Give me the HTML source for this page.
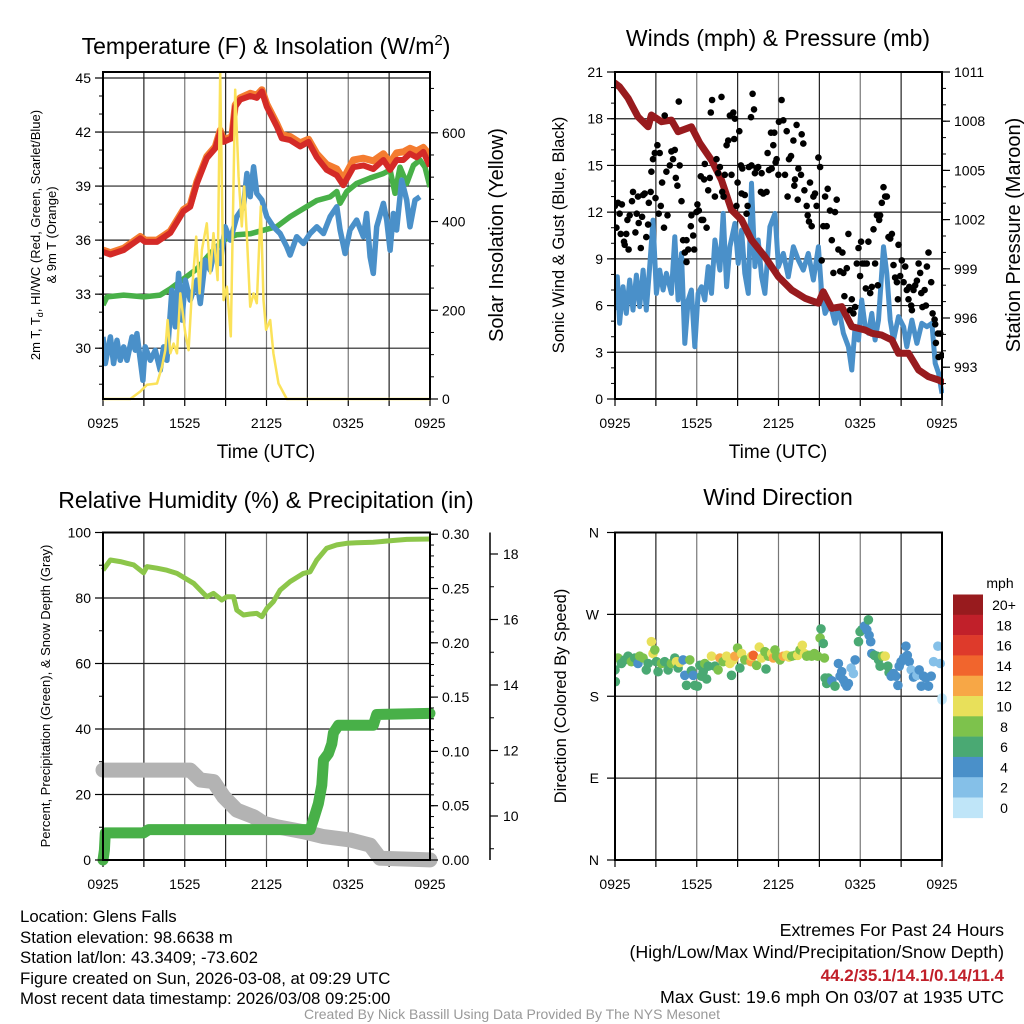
<!DOCTYPE html>
<html><head><meta charset="utf-8"><style>
html,body{margin:0;padding:0;background:#fff;}
svg{display:block;font-family:"Liberation Sans",Arial,sans-serif;}
</style></head><body>
<svg id="chart" xmlns="http://www.w3.org/2000/svg" width="1024" height="1024" viewBox="0 0 1024 1024">
<rect width="1024" height="1024" fill="#fff"/>
<g id="layer"></g>
<text x="266" y="54" font-size="23" text-anchor="middle">Temperature (F) &amp; Insolation (W/m<tspan dy="-9" font-size="15">2</tspan><tspan dy="9">)</tspan></text>
<text x="778" y="46" font-size="23" text-anchor="middle">Winds (mph) &amp; Pressure (mb)</text>
<text x="266" y="508" font-size="23" text-anchor="middle">Relative Humidity (%) &amp; Precipitation (in)</text>
<text x="778" y="505" font-size="23" text-anchor="middle">Wind Direction</text>
<text x="266" y="458" font-size="19" text-anchor="middle">Time (UTC)</text>
<text x="778" y="458" font-size="19" text-anchor="middle">Time (UTC)</text>
<text transform="translate(40,235) rotate(-90)" font-size="13" text-anchor="middle">2m T, T<tspan font-size="9" dy="3">d</tspan><tspan dy="-3">, HI/WC (Red, Green, Scarlet/Blue)</tspan></text>
<text transform="translate(56,235) rotate(-90)" font-size="13" text-anchor="middle">&amp; 9m T (Orange)</text>
<text transform="translate(503,235) rotate(-90)" font-size="20" text-anchor="middle">Solar Insolation (Yellow)</text>
<text transform="translate(564,235) rotate(-90)" font-size="16.5" text-anchor="middle">Sonic Wind &amp; Gust (Blue, Black)</text>
<text transform="translate(1020,235) rotate(-90)" font-size="20" text-anchor="middle">Station Pressure (Maroon)</text>
<text transform="translate(50,696) rotate(-90)" font-size="13" text-anchor="middle">Percent, Precipitation (Green), &amp; Snow Depth (Gray)</text>
<text transform="translate(566,696) rotate(-90)" font-size="16.5" text-anchor="middle">Direction (Colored By Speed)</text>
<text x="1000" y="588" font-size="14" text-anchor="middle">mph</text>
<g font-size="16.8">
<text x="20" y="922">Location: Glens Falls</text>
<text x="20" y="943">Station elevation: 98.6638 m</text>
<text x="20" y="963">Station lat/lon: 43.3409; -73.602</text>
<text x="20" y="984">Figure created on Sun, 2026-03-08, at 09:29 UTC</text>
<text x="20" y="1004">Most recent data timestamp: 2026/03/08 09:25:00</text>
</g>
<g font-size="17.8" text-anchor="end">
<text x="1004" y="936">Extremes For Past 24 Hours</text>
<text x="1004" y="958">(High/Low/Max Wind/Precipitation/Snow Depth)</text>
<text x="1004" y="981" fill="#c1202a" font-weight="bold" font-size="17">44.2/35.1/14.1/0.14/11.4</text>
<text x="1004" y="1003">Max Gust: 19.6 mph On 03/07 at 1935 UTC</text>
</g>
<text x="512" y="1019" font-size="14" fill="#999" text-anchor="middle">Created By Nick Bassill Using Data Provided By The NYS Mesonet</text>
</svg>
<script>
// ---- Temperature panel data (hours since 0925 UTC) ----
const tempHours = [0,0.54,1.52,2.74,3.10,3.96,4.94,5.91,6.40,6.89,7.62,8.24,8.60,8.85,9.46,9.70,10.07,10.80,11.29,11.66,12.02,12.76,13.12,13.73,14.47,15.08,15.69,16.42,17.16,17.64,18.38,19.11,19.84,20.58,21.07,21.55,22.04,22.53,23.02,23.51,24];
const temp2m = [35.35,35.2,35.45,36.1,35.9,35.9,36.4,37.6,37.85,39.15,40.55,41.1,42.0,41.45,41.65,43.4,43.8,44.0,43.9,44.25,43.4,42.3,41.65,41.55,41.2,41.45,40.6,39.9,39.6,39.05,40.05,40.15,39.95,40.45,39.9,40.45,40.45,40.8,40.6,40.9,40.1];
const temp9m = [35.45,35.3,35.55,36.2,36.0,36.0,36.5,37.7,37.95,39.25,40.65,41.2,42.1,41.55,41.75,43.5,43.9,44.15,44.05,44.35,43.55,42.45,41.85,41.75,41.4,41.6,40.8,40.2,39.95,39.4,40.45,40.55,40.4,40.8,40.3,40.85,40.9,41.1,40.95,41.15,40.7];
const greenHours = [0,0.29,1.52,2.98,4.20,4.94,5.91,6.89,7.87,8.85,9.82,10.80,11.78,12.76,13.73,14.71,15.69,16.67,17.16,17.40,17.89,18.62,19.60,20.58,21.07,21.43,21.80,22.29,22.78,23.26,23.63,24];
const greenTemp = [32.4,32.85,32.95,32.85,32.95,33.3,33.85,34.4,35.25,36.0,36.3,36.35,36.55,36.75,37.3,37.75,38.2,38.4,38.7,38.05,38.7,39.15,39.45,39.7,39.9,38.6,40.05,39.15,40.15,40.45,40.05,38.95];
const blueHours = [0,0.17,0.54,0.78,1.03,1.27,1.52,1.76,2.13,2.37,2.49,2.74,2.93,3.10,3.47,3.84,4.20,4.45,4.69,5.06,5.30,5.55,5.79,6.04,6.40,6.89,7.14,7.50,7.87,8.24,8.60,8.97,9.34,9.82,10.31,10.56,10.80,11.05,11.29,11.66,12.02,12.51,13.00,13.49,13.73,14.22,14.71,15.20,15.69,16.18,16.67,17.16,17.40,17.77,18.13,18.62,19.11,19.35,19.60,19.84,20.09,20.58,20.82,21.07,21.31,21.55,21.92,22.29,22.53,22.90,23.26];
const blueTemp = [30.63,29.15,30.63,29.15,30.44,29.33,30.07,29.33,30.63,29.89,30.81,29.33,28.22,30.07,29.33,29.89,28.78,30.07,29.33,33.22,31.19,34.15,31.56,33.78,32.67,33.78,32.48,34.89,34.33,35.63,34.70,36.74,36.0,37.30,37.85,39.70,38.41,40.07,38.59,38.22,37.30,36.74,36.37,35.63,35.17,36.19,35.81,36.37,36.74,36.37,37.30,37.85,36.56,35.26,36.56,37.11,36.19,37.48,35.07,34.15,36.74,38.04,37.11,35.44,37.48,36.56,39.33,38.22,36.74,38.22,38.41];
const solarHours = [0,2.00,2.74,3.23,3.96,4.33,4.57,4.74,4.94,5.18,5.43,5.67,6.04,6.28,6.52,6.84,7.09,7.26,7.62,7.87,8.11,8.41,8.60,8.85,9.09,9.38,9.70,9.95,10.19,10.36,10.56,10.80,11.05,11.29,11.58,11.78,11.97,12.27,12.51,12.88,13.49,24];
const solarWm2 = [0,0,17,32,35,73,110,178,103,125,103,238,148,110,238,366,238,336,396,283,374,268,735,223,253,141,697,501,389,479,366,208,238,216,434,223,156,178,103,35,0,0];
const tempTicks = [30,33,36,39,42,45];
const solarTicks = [0,200,400,600];
const timeLabels = ["0925","1525","2125","0325","0925"];

// ---- Wind panel data ----
const presHours = [0,0.34,0.96,1.69,2.43,2.67,3.41,4.14,4.63,5.61,6.23,7.08,7.82,8.55,9.29,10.02,11.00,11.99,12.97,13.95,14.93,15.29,15.91,16.64,17.38,18.36,18.85,19.58,20.32,20.81,21.54,22.28,23.01,23.75,24];
const presMb = [1010.31,1010.1,1009.4,1008.27,1007.66,1008.38,1007.97,1008.07,1007.36,1007.66,1006.65,1005.63,1004.41,1002.59,1001.98,1000.76,999.74,998.52,997.71,997.2,996.9,997.6,996.59,996.69,995.47,995.27,995.07,994.96,994.66,993.85,993.85,992.83,992.42,992.22,992.11];
const windHours = [0,0.17,0.34,0.59,0.83,1.08,1.32,1.57,1.81,2.06,2.30,2.55,2.79,3.04,3.28,3.53,3.77,4.14,4.39,4.63,4.88,5.12,5.37,5.61,5.86,6.10,6.35,6.59,6.84,7.08,7.33,7.70,7.94,8.19,8.43,8.80,9.04,9.29,9.53,9.78,10.02,10.27,10.51,10.76,11.00,11.37,11.74,11.99,12.35,12.72,13.09,13.46,13.82,14.19,14.56,14.93,15.17,15.42,15.78,16.15,16.40,16.76,17.13,17.38,17.62,17.87,18.11,18.36,18.60,18.85,19.09,19.34,19.71,19.95,20.20,20.44,20.81,21.18,21.42,21.79,22.16,22.52,22.89,23.26,23.50,23.75,24.0];
const windMph = [5.71,7.85,4.86,7.21,5.50,7.64,5.71,7.96,5.93,8.28,5.71,8.50,11.49,6.78,8.28,7.0,8.07,6.78,10.42,6.36,9.35,3.57,6.36,7.0,3.36,6.78,7.21,6.36,8.50,6.78,10.21,8.28,11.92,7.21,9.78,11.28,8.71,10.85,8.07,6.78,13.85,8.50,10.21,7.85,6.78,11.06,11.92,8.50,9.35,7.85,9.78,8.92,8.28,9.35,7.64,9.78,6.78,5.50,6.14,4.86,5.93,4.22,3.36,1.86,4.64,3.79,6.36,4.64,4.22,5.50,3.79,5.07,9.78,8.07,5.07,3.79,5.29,4.64,3.36,5.07,3.57,4.86,4.64,4.86,2.29,1.65,0.36];
const gustHours = [0,0.1,0.22,0.34,0.51,0.42,0.66,0.83,0.71,1.0,0.91,1.08,1.25,1.32,1.5,1.59,1.69,1.74,1.89,1.99,2.06,2.18,2.3,2.43,2.48,2.62,2.67,2.79,2.92,2.97,3.11,3.21,3.28,3.36,3.46,3.6,3.65,3.77,3.85,4.02,4.14,4.26,4.39,4.46,4.58,4.68,4.75,4.88,5.0,5.12,5.25,5.25,5.37,5.56,5.61,5.74,5.81,5.98,6.05,6.15,6.3,6.35,6.47,6.54,6.59,6.72,6.84,6.96,7.03,7.13,7.33,7.45,7.57,7.7,7.82,7.87,7.97,8.06,8.19,8.31,8.43,8.55,8.68,8.75,8.8,8.92,9.0,9.12,9.24,9.29,9.34,9.53,9.66,9.73,9.83,9.98,10.02,10.1,10.2,10.27,10.39,10.51,10.71,10.76,10.88,11.13,11.2,11.3,11.45,11.5,11.62,11.69,11.79,11.86,11.99,12.03,12.23,12.35,12.48,12.6,12.67,12.77,12.92,13.09,13.16,13.21,13.33,13.41,13.46,13.65,13.7,13.82,13.9,14.07,14.14,14.24,14.31,14.44,14.56,14.68,14.8,14.93,15.05,15.17,15.29,15.42,15.54,15.61,15.78,15.91,16.03,16.15,16.27,16.4,16.52,16.69,16.76,16.84,17.01,17.13,17.25,17.38,17.5,17.62,17.75,17.87,17.99,18.06,18.16,18.31,18.41,18.48,18.6,18.73,18.85,18.97,19.09,19.22,19.29,19.39,19.46,19.58,19.71,19.83,19.95,20.07,20.2,20.32,20.44,20.56,20.69,20.76,20.81,20.93,21.05,21.18,21.3,21.42,21.54,21.59,21.74,21.79,21.91,22.03,22.16,22.28,22.4,22.48,22.57,22.72,22.82,22.89,23.01,23.21,23.31,23.46,23.5,23.55,23.7,23.87,23.75,24.0];
const gustMph = [12.4,11.0,12.6,11.9,12.5,10.6,10.1,10.6,9.9,9.6,11.5,11.8,12.7,13.3,10.7,11.9,13.0,11.3,9.7,11.7,13.1,13.2,10.4,11.2,12.6,13.3,14.6,15.4,15.8,12.9,16.3,11.9,15.8,12.4,13.9,11.0,18.2,14.6,11.8,15.0,15.9,15.4,16.0,14.2,13.7,19.1,15.0,12.7,10.2,9.4,10.2,8.8,9.6,11.1,11.8,10.5,9.6,12.0,12.5,12.1,14.3,11.5,11.5,14.1,15.1,11.0,13.4,14.2,18.4,19.2,13.0,15.4,14.5,14.9,19.4,13.3,13.0,14.4,16.3,16.6,18.2,14.4,18.4,16.7,18.0,12.4,13.9,17.2,15.0,13.2,14.8,13.1,11.9,12.4,14.9,18.1,15.0,19.6,18.6,14.5,14.8,14.9,13.3,14.5,13.2,13.3,15.8,14.7,17.1,14.8,16.3,17.1,15.2,15.4,14.4,17.8,19.2,17.9,14.4,17.2,13.0,15.4,15.6,16.6,13.7,14.1,17.6,12.8,14.8,14.4,17.0,16.4,13.4,12.4,11.8,11.4,13.9,11.1,13.0,13.2,12.4,15.5,14.9,8.9,11.1,13.0,11.1,13.5,12.1,10.2,8.1,12.0,12.8,9.6,8.2,9.4,8.1,6.6,8.4,10.6,5.7,6.4,5.5,5.9,8.7,9.7,7.9,10.1,8.7,8.7,7.1,8.7,10.1,6.8,7.2,10.9,8.7,11.8,7.3,11.5,11.8,12.6,13.6,13.0,13.0,10.4,10.3,10.6,8.6,7.8,7.5,6.4,9.9,7.9,8.9,7.5,8.5,7.0,6.4,7.2,6.0,5.7,7.0,7.3,7.6,8.7,8.1,6.8,5.9,7.0,6.0,8.5,9.4,7.5,5.5,5.1,4.8,3.6,4.2,4.2,2.7,2.8];
const windTicks = [0,3,6,9,12,15,18,21];
const presTicks = [993,996,999,1002,1005,1008,1011];

// ---- Humidity / precipitation panel data ----
const rhHours = [0,0.54,1.27,1.76,2.25,2.98,3.23,3.96,4.69,5.43,6.04,6.65,7.14,7.62,8.11,8.72,9.09,9.58,9.82,10.31,10.80,11.29,11.66,12.02,12.51,13.00,13.73,14.71,15.20,15.69,16.42,17.16,17.89,18.62,19.84,21.07,22.29,24];
const rhPct = [88.5,91.6,91.1,90.6,90.1,87.7,89.6,89.1,88.5,87.5,86.0,84.5,82.4,80.4,81.4,79.4,80.4,80.4,76.3,74.8,75.1,75.3,74.3,76.8,78.9,82.4,85.0,87.5,88.0,91.6,95.2,96.2,96.7,96.9,97.0,97.5,97.9,98.0];
const precipHours = [0,0.1,0.17,2.98,3.35,15.20,15.44,15.81,16.06,16.18,16.54,16.79,16.91,17.28,19.84,20.09,24];
const precipIn = [0,0.009,0.025,0.025,0.028,0.028,0.037,0.052,0.069,0.092,0.098,0.107,0.117,0.124,0.124,0.134,0.135];
const snowHours = [0,6.40,7.14,8.11,8.85,9.82,11.05,11.78,12.76,14.71,16.18,18.13,19.60,20.33,24];
const snowIn = [11.40,11.40,11.10,11.05,10.59,10.18,9.98,9.78,9.67,9.52,9.37,9.27,9.11,8.71,8.66];
const rhTicks = [0,20,40,60,80,100];
const precipTicks = [0.00,0.05,0.10,0.15,0.20,0.25,0.30];
const snowTicks = [10,12,14,16,18];

// ---- Wind direction panel data ----
const dirHours = [0,0.02,0.22,0.47,0.71,0.96,1.2,1.45,1.69,1.81,2.06,2.3,2.43,2.67,2.79,2.92,3.04,3.16,3.41,3.65,3.9,4.14,4.39,4.51,4.63,4.75,5.0,5.12,5.25,5.49,5.61,5.74,5.86,6.05,6.23,6.35,6.47,6.59,6.72,6.84,7.08,7.33,7.57,7.7,7.94,8.19,8.43,8.55,8.68,8.8,9.0,9.17,9.29,9.53,9.78,9.98,10.02,10.15,10.39,10.59,10.76,11.0,11.08,11.25,11.5,11.62,11.74,11.86,12.11,12.35,12.6,12.77,12.97,13.21,13.41,13.58,13.75,13.9,14.07,14.24,14.44,14.63,14.88,15.12,15.05,15.29,15.37,15.42,15.54,15.66,15.91,16.15,16.4,16.52,16.64,16.76,16.89,17.01,17.13,17.33,17.5,17.62,17.87,17.99,18.11,18.31,18.48,18.6,18.65,18.77,18.85,19.04,19.22,19.34,19.46,19.63,19.83,20.02,20.12,20.27,20.44,20.61,20.76,20.86,21.0,21.18,21.35,21.45,21.59,21.74,21.91,22.16,22.33,22.48,22.65,22.82,23.01,23.21,23.38,23.7,23.87,24.0,24.0];
const dirDeg = [209,196,222,216,220,224,218,222,216,224,222,209,216,240,227,231,218,207,216,218,209,216,222,218,211,217,220,203,192,220,208,203,192,191,214,202,207,216,199,213,224,213,209,222,218,224,216,203,220,224,233,211,227,220,220,218,224,225,214,234,222,229,210,224,227,222,231,224,220,224,225,223,224,225,225,231,236,227,224,225,224,227,224,254,244,238,222,200,194,200,197,191,216,202,207,198,194,191,194,211,205,220,240,251,253,257,253,264,247,240,227,225,224,220,213,224,224,213,206,202,205,202,192,213,218,222,235,225,218,209,201,203,209,191,202,200,191,202,218,235,216,176,178];
const dirSpeed = [7,7,9,7,7,7,9,7,5,9,9,7,7,11,11,9,7,7,9,7,7,9,7,11,7,11,5,5,7,9,7,5,7,7,7,7,7,9,7,7,11,7,9,13,9,11,11,7,11,13,9,7,11,9,9,13,11,15,9,11,11,9,7,9,11,13,9,9,9,13,11,11,9,9,11,9,11,11,9,9,9,9,9,7,9,7,9,7,7,7,5,7,5,5,5,5,5,5,5,3,3,5,7,7,7,5,5,7,5,5,5,7,7,7,7,9,11,7,7,5,5,5,5,5,5,5,5,5,5,3,5,3,5,5,5,5,5,5,3,3,3,1,1];
const dirTicks = ["N","E","S","W","N"];
const speedLabels = ["20+","18","16","14","12","10","8","6","4","2","0"];
const speedColors = ["#981b1e","#c1202a","#de3a2b","#f1652d","#f7a746","#e8e05a","#7dc24c","#4aa973","#4a90c9","#85c0e8","#bfe5f8"];

// ---- helpers ----
const NS = "http://www.w3.org/2000/svg";
const layer = document.getElementById("layer");
function mk(tag, attrs, parent) {
  const e = document.createElementNS(NS, tag);
  for (const k in attrs) e.setAttribute(k, attrs[k]);
  (parent || layer).appendChild(e);
  return e;
}
function lin(d0, d1, r0, r1) { return v => r0 + (v - d0) / (d1 - d0) * (r1 - r0); }
function pathFrom(xs, ys, fx, fy) {
  const n = Math.min(xs.length, ys.length);
  let d = "";
  for (let i = 0; i < n; i++) d += (i ? "L" : "M") + fx(xs[i]).toFixed(1) + "," + fy(ys[i]).toFixed(1);
  return d;
}
function clipRect(id, x, y, w, h) {
  const cp = mk("clipPath", {id: id});
  mk("rect", {x: x, y: y, width: w, height: h}, cp);
}

const P = [
  {x0: 103, x1: 430, y0: 72, y1: 399},
  {x0: 615, x1: 942, y0: 72, y1: 399},
  {x0: 103, x1: 430, y0: 532.5, y1: 860},
  {x0: 615, x1: 942, y0: 532.5, y1: 860}
];

function frame(p, idx, hGrid) {
  const g = mk("g", {});
  
  
  for (let k = 1; k < 8; k++) {
    const x = p.x0 + (p.x1 - p.x0) * k / 8;
    mk("line", {x1: x, x2: x, y1: p.y0, y2: p.y1, stroke: k % 2 ? "#222" : "#777", "stroke-width": 1.2}, g);
  }
  hGrid.forEach(y => mk("line", {x1: p.x0, x2: p.x1, y1: y, y2: y, stroke: "#222", "stroke-width": 1.2}, g));
  for (let k = 0; k <= 8; k++) {
    const x = p.x0 + (p.x1 - p.x0) * k / 8;
    mk("line", {x1: x, x2: x, y1: p.y1, y2: p.y1 + 7, stroke: "#000", "stroke-width": 1.2}, g);
  }
  for (let k = 0; k < timeLabels.length; k++) {
    const x = p.x0 + (p.x1 - p.x0) * k / 4;
    const t = mk("text", {x: x, y: p.y1 + 29, "font-size": 14, "text-anchor": "middle"}, g);
    
    
    t.textContent = timeLabels[k];
  }
}
function border(p, idx) {
  const r = mk("rect", {x: p.x0, y: p.y0, width: p.x1 - p.x0, height: p.y1 - p.y0, fill: "none", stroke: "#000", "stroke-width": 2});
  
  
}
function yAxis(p, side, ticks, fy, labelFn, minorVals, name) {
  const g = mk("g", {});
  
  
  const x = side === "left" ? p.x0 : p.x1;
  const dir = side === "left" ? -1 : 1;
  minorVals.forEach(v => { const y = fy(v); if (y >= p.y0 - 1 && y <= p.y1 + 1) mk("line", {x1: x, x2: x + dir * 4, y1: y, y2: y, stroke: "#000", "stroke-width": 1}, g); });
  ticks.forEach(v => {
    const y = fy(v);
    mk("line", {x1: x, x2: x + dir * 8, y1: y, y2: y, stroke: "#000", "stroke-width": 1.2}, g);
    const t = mk("text", {x: x + dir * 12, y: y + 5, "font-size": 14, "text-anchor": side === "left" ? "end" : "start"}, g);
    
    
    t.textContent = labelFn(v);
  });
}
function range(a, b, s) { const r = []; for (let v = a; v <= b + 1e-9; v += s) r.push(+v.toFixed(4)); return r; }

// ===== Panel 1 =====
{
  const p = P[0];
  const fx = lin(0, 24, p.x0, p.x1);
  const fT = lin(45, 27.18, 78, p.y1);
  const fS = lin(0, 737, p.y1, p.y0);
  frame(p, 1, tempTicks.map(fT));
  clipRect("c1", p.x0, p.y0 - 1, p.x1 - p.x0, p.y1 - p.y0 + 3);
  const g = mk("g", {"clip-path": "url(#c1)"});
  const s1 = mk("path", {d: pathFrom(tempHours, temp9m, fx, fT), fill: "none", stroke: "#f47c30", "stroke-width": 7, "stroke-linejoin": "round"}, g);
  
  
  const s2 = mk("path", {d: pathFrom(greenHours, greenTemp, fx, fT), fill: "none", stroke: "#48b048", "stroke-width": 5.5, "stroke-linejoin": "round"}, g);
  
  
  const s3 = mk("path", {d: pathFrom(blueHours, blueTemp, fx, fT), fill: "none", stroke: "#4a90c9", "stroke-width": 5.5, "stroke-linejoin": "round"}, g);
  
  
  const s4 = mk("path", {d: pathFrom(tempHours, temp2m, fx, fT), fill: "none", stroke: "#d42a27", "stroke-width": 6, "stroke-linejoin": "round"}, g);
  
  
  const s5 = mk("path", {d: pathFrom(solarHours, solarWm2, fx, fS), fill: "none", stroke: "#fbe25a", "stroke-width": 2.5, "stroke-linejoin": "round"}, g);
  
  
  border(p, 1);
  yAxis(p, "left", tempTicks, fT, v => String(v), range(28, 45, 1), "temp-y-axis");
  yAxis(p, "right", solarTicks, fS, v => String(v), range(0, 700, 50), "insolation-y-axis");
}

// ===== Panel 2 =====
{
  const p = P[1];
  const fx = lin(0, 24, p.x0, p.x1);
  const fW = lin(0, 21, p.y1, 72);
  const fP = lin(1011, 993, 72, 367.2);
  frame(p, 2, windTicks.filter(v => v > 0 && v < 21).map(fW));
  clipRect("c2", p.x0, p.y0 - 1, p.x1 - p.x0 + 2, p.y1 - p.y0 + 3);
  const g = mk("g", {"clip-path": "url(#c2)"});
  const w = mk("path", {d: pathFrom(windHours, windMph, fx, fW), fill: "none", stroke: "#4a90c9", "stroke-width": 5, "stroke-linejoin": "round"}, g);
  
  
  const pr = mk("path", {d: pathFrom(presHours, presMb, fx, fP), fill: "none", stroke: "#981b1e", "stroke-width": 7, "stroke-linejoin": "round", "stroke-linecap": "round"}, g);
  
  
  const n = Math.min(gustHours.length, gustMph.length);
  for (let i = 0; i < n; i++) {
    const c = mk("circle", {cx: fx(gustHours[i]).toFixed(1), cy: fW(gustMph[i]).toFixed(1), r: 3.3, fill: "#000"}, g);
    
    
  }
  border(p, 2);
  yAxis(p, "left", windTicks, fW, v => String(v), range(0, 21, 1), "wind-y-axis");
  yAxis(p, "right", presTicks, fP, v => String(v), range(992, 1011, 1), "pressure-y-axis");
}

// ===== Panel 3 =====
{
  const p = P[2];
  const fx = lin(0, 24, p.x0, p.x1);
  const fR = lin(0, 100, p.y1, p.y0);
  const fPr = lin(0, 0.30, p.y1, p.y1 - 0.30 * 1086);
  const fSn = lin(10, 18, 816, 554);
  frame(p, 3, rhTicks.filter(v => v > 0 && v < 100).map(fR));
  clipRect("c3", p.x0 - 8, p.y0 - 2, p.x1 - p.x0 + 16, p.y1 - p.y0 + 10);
  const g = mk("g", {"clip-path": "url(#c3)"});
  const sn = mk("path", {d: pathFrom(snowHours, snowIn, fx, fSn), fill: "none", stroke: "#b3b3b3", "stroke-width": 15, "stroke-linejoin": "round", "stroke-linecap": "round"}, g);
  
  
  const pc = mk("path", {d: pathFrom(precipHours, precipIn, fx, fPr), fill: "none", stroke: "#48b048", "stroke-width": 11, "stroke-linejoin": "round", "stroke-linecap": "round"}, g);
  
  
  const rh = mk("path", {d: pathFrom(rhHours, rhPct, fx, fR), fill: "none", stroke: "#8cc64a", "stroke-width": 5, "stroke-linejoin": "round"}, g);
  
  
  border(p, 3);
  yAxis(p, "left", rhTicks, fR, v => String(v), range(0, 100, 10), "rh-y-axis");
  yAxis(p, "right", precipTicks, fPr, v => v.toFixed(2), range(0, 0.30, 0.01), "precip-y-axis");
  const sg = mk("g", {});
  
  
  mk("line", {x1: 490, x2: 490, y1: p.y0, y2: p.y1, stroke: "#000", "stroke-width": 1.5}, sg);
  range(9, 18, 1).forEach(v => mk("line", {x1: 490, x2: 494, y1: fSn(v), y2: fSn(v), stroke: "#000", "stroke-width": 1}, sg));
  snowTicks.forEach(v => {
    const y = fSn(v);
    mk("line", {x1: 490, x2: 498, y1: y, y2: y, stroke: "#000", "stroke-width": 1.2}, sg);
    const t = mk("text", {x: 503, y: y + 5, "font-size": 14}, sg);
    
    
    t.textContent = String(v);
  });
}

// ===== Panel 4 =====
{
  const p = P[3];
  const fx = lin(0, 24, p.x0, p.x1);
  const fD = lin(0, 360, p.y1, p.y0);
  frame(p, 4, [90, 180, 270].map(fD));
  clipRect("c4", p.x0, p.y0, p.x1 - p.x0 + 6, p.y1 - p.y0);
  const g = mk("g", {"clip-path": "url(#c4)"});
  const n = Math.min(dirHours.length, dirDeg.length, dirSpeed.length);
  for (let i = 0; i < n; i++) {
    const s = dirSpeed[i];
    const bin = Math.min(10, Math.floor(s / 2));
    const c = mk("circle", {cx: fx(dirHours[i]).toFixed(1), cy: fD(dirDeg[i]).toFixed(1), r: 4.8, fill: speedColors[10 - bin]}, g);
    
    
  }
  border(p, 4);
  const ag = mk("g", {});
  
  
  for (let k = 0; k < dirTicks.length; k++) {
    const y = fD(k * 90);
    mk("line", {x1: p.x0, x2: p.x0 - 8, y1: y, y2: y, stroke: "#000", "stroke-width": 1.2}, ag);
    const t = mk("text", {x: p.x0 - 16, y: y + 5, "font-size": 14, "text-anchor": "end"}, ag);
    
    
    t.textContent = dirTicks[k];
  }
  const cb = mk("g", {});
  
  
  for (let i = 0; i < speedLabels.length; i++) {
    const y = 594.5 + i * 20.3;
    const r = mk("rect", {x: 953, y: y, width: 30, height: 20.6, fill: speedColors[i]}, cb);
    
    
    const t = mk("text", {x: 1004, y: y + 15.5, "font-size": 14, "text-anchor": "middle"}, cb);
    
    
    t.textContent = speedLabels[i];
  }
}
</script>
</body></html>
